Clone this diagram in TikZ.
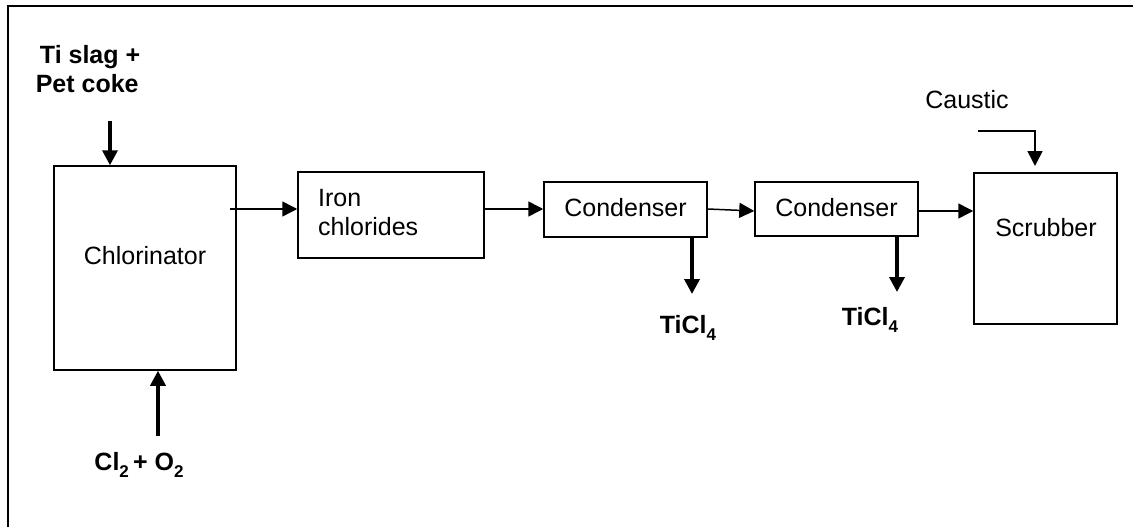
\documentclass[tikz,border=0pt]{standalone}
\usepackage{fontspec}
\setmainfont{Liberation Sans}
\usetikzlibrary{arrows.meta}
\newcommand{\mysub}[1]{\raisebox{-0.28em}{\fontsize{17}{20}\selectfont #1}}
\begin{document}
\begin{tikzpicture}[x=1pt,y=-1pt,
  box/.style={draw,line width=1.5pt,inner sep=0pt},
  lbl/.style={font=\fontsize{25}{29}\selectfont,inner sep=0pt},
  blbl/.style={font=\fontsize{25}{29}\selectfont\bfseries,inner sep=0pt,align=left},
  thin/.style={line width=1.5pt,-{Triangle[length=15pt,width=15pt]}},
  thick/.style={line width=3.5pt,-{Triangle[length=15pt,width=15pt]}}]
\useasboundingbox (0,0) rectangle (1133,527);
% frame
\draw[line width=2.5pt] (8,527) -- (8,6) -- (1133,6);
% boxes
\node[box,minimum width=182pt,minimum height=204pt] (chl) at (145,268) {};
\node[lbl] at (145,256) {Chlorinator};
\node[box,minimum width=186pt,minimum height=86pt] (iron) at (391,215) {};
\node[lbl,align=left,anchor=west] at (318,213) {Iron\\chlorides};
\node[box,minimum width=163pt,minimum height=55pt] (c1) at (625.5,209.5) {};
\node[lbl] at (625.5,208) {Condenser};
\node[box,minimum width=163pt,minimum height=54pt] (c2) at (836.5,209) {};
\node[lbl] at (836.5,208) {Condenser};
\node[box,minimum width=143pt,minimum height=151pt] (scr) at (1045.5,248.5) {};
\node[lbl] at (1046,228) {Scrubber};
% labels
\node[blbl,align=left] (feed) at (88,69) {\,Ti slag +\\Pet coke};
\node[blbl] (gas) at (139,465) {Cl\mysub{2}\,+ O\mysub{2}};
\node[blbl] (t1) at (688,328) {TiCl\mysub{4}};
\node[blbl] (t2) at (870,320) {TiCl\mysub{4}};
\node[lbl] (caus) at (967,100) {Caustic};
% coordinates
\coordinate (feedS) at (110,121);
\coordinate (gasN) at (158,436);
\coordinate (c1d) at (692,294);
\coordinate (c2d) at (897,292);
\coordinate (causS) at (978,131);
% arrows
\draw[thick] (feedS) -- (feedS |- chl.north);
\draw[thick] (gasN) -- (gasN |- chl.south);
\draw[thin] (230,209) -- (iron.west |- 0,209);
\draw[thin] (iron.east |- 0,209) -- (c1.west |- 0,209);
\draw[thin] (c1.east |- 0,209) -- (c2.west |- 0,211);
\draw[thin] (c2.east |- 0,211) -- (scr.west |- 0,211);
\draw[thick] (c1d |- c1.south) -- (c1d);
\draw[thick] (c2d |- c2.south) -- (c2d);
\draw[thin] (causS) -- (1035,131) -- (1035,166);
\end{tikzpicture}
\end{document}
